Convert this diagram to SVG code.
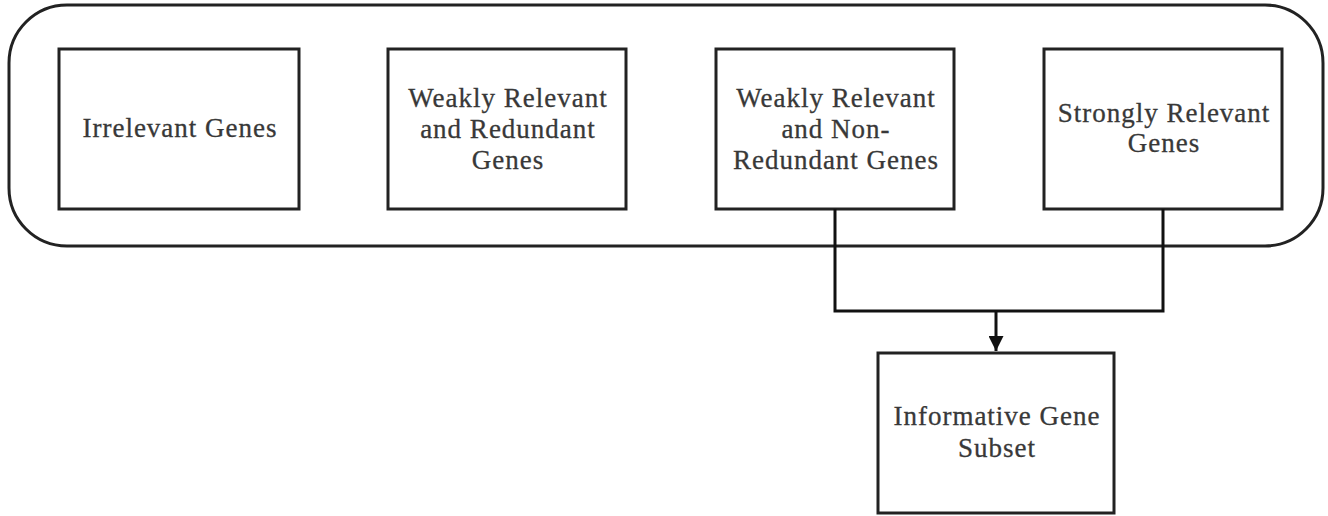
<svg xmlns="http://www.w3.org/2000/svg" width="1328" height="516" viewBox="0 0 1328 516">
<defs>
<style>
.box{fill:#fff;stroke:#222;stroke-width:3}
.outer{fill:none;stroke:#222;stroke-width:3}
.t{font-family:"Liberation Serif","Times New Roman",serif;font-size:27px;letter-spacing:1px;fill:#383838;stroke:#383838;stroke-width:0.3;text-anchor:middle}
.c{fill:none;stroke:#111;stroke-width:3}
</style>
<marker id="arr" viewBox="0 0 10 10" refX="10" refY="5" markerWidth="5" markerHeight="5" markerUnits="strokeWidth" orient="auto">
<path d="M0,0 L10,5 L0,10 z" fill="#111"/>
</marker>
</defs>
<rect width="1328" height="516" fill="#fff"/>
<g id="container"><rect class="outer" x="9" y="5" width="1314" height="241" rx="58" ry="58"/></g>
<g id="irrelevant"><rect class="box" x="59" y="49" width="240" height="160"/><text class="t" x="180" y="137">Irrelevant Genes</text></g>
<g id="weak-redundant"><rect class="box" x="388" y="49" width="238" height="160"/><text class="t" x="508" y="107">Weakly Relevant</text><text class="t" x="508" y="138">and Redundant</text><text class="t" x="508" y="169">Genes</text></g>
<g id="weak-nonredundant"><rect class="box" x="716" y="49" width="238" height="160"/><text class="t" x="836" y="107">Weakly Relevant</text><text class="t" x="836" y="138">and Non-</text><text class="t" x="836" y="169">Redundant Genes</text></g>
<g id="strong"><rect class="box" x="1044" y="49" width="238" height="160"/><text class="t" x="1164" y="122">Strongly Relevant</text><text class="t" x="1164" y="152">Genes</text></g>
<g id="subset"><rect class="box" x="878" y="353" width="236" height="160"/><text class="t" x="997" y="425">Informative Gene</text><text class="t" x="997" y="457">Subset</text></g>
<g id="connectors">
<path class="c" d="M835,209 V311 H1163 V209"/>
<path class="c" d="M996,311 V351" marker-end="url(#arr)"/>
</g>
</svg>
